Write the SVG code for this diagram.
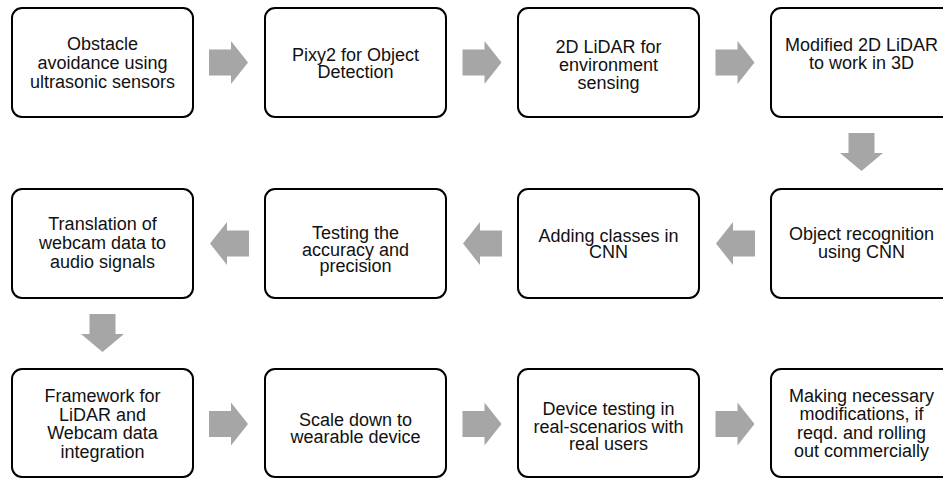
<svg xmlns="http://www.w3.org/2000/svg" xmlns:xlink="http://www.w3.org/1999/xlink" width="943" height="479" viewBox="0 0 943 479">
  <style>
    .box { fill: #ffffff; stroke: #000000; stroke-width: 2; }
    .lbl { font-family: "Liberation Sans", Arial, sans-serif; font-size: 18px; fill: #111111; text-anchor: middle; }
    .arr { fill: #a6a6a6; stroke: none; }
  </style>
  <defs>
    <path id="arrR" class="arr" d="M0,-13 H22 V-21.5 L39,0 L22,21.5 V13 H0 Z"/>
    <path id="arrL" class="arr" d="M0,0 L17,-21.5 V-13 H39 V13 H17 V21.5 Z"/>
    <path id="arrD" class="arr" d="M-13,0 H13 V20 H21.5 L0,38 L-21.5,20 H-13 Z"/>
  </defs>
  <rect width="943" height="479" fill="#ffffff"/>

  <g id="connectors">
    <use xlink:href="#arrR" transform="translate(209,62.5)"/>
    <use xlink:href="#arrR" transform="translate(462.5,62.5)"/>
    <use xlink:href="#arrR" transform="translate(715.5,62.5)"/>
    <use xlink:href="#arrD" transform="translate(861.5,133)"/>
    <use xlink:href="#arrL" transform="translate(716,243.5)"/>
    <use xlink:href="#arrL" transform="translate(463,243.5)"/>
    <use xlink:href="#arrL" transform="translate(210,243.5)"/>
    <use xlink:href="#arrD" transform="translate(102.5,314)"/>
    <use xlink:href="#arrR" transform="translate(209,424)"/>
    <use xlink:href="#arrR" transform="translate(462.5,424)"/>
    <use xlink:href="#arrR" transform="translate(715.5,424)"/>
  </g>

  <g id="n1">
    <rect class="box" x="12" y="8" width="181" height="109" rx="10"/>
    <text class="lbl"><tspan x="102.5" y="50">Obstacle</tspan><tspan x="102.5" y="69">avoidance using</tspan><tspan x="102.5" y="87.5">ultrasonic sensors</tspan></text>
  </g>
  <g id="n2">
    <rect class="box" x="265" y="8" width="181" height="109" rx="10"/>
    <text class="lbl"><tspan x="355.5" y="61">Pixy2 for Object</tspan><tspan x="355.5" y="77.5">Detection</tspan></text>
  </g>
  <g id="n3">
    <rect class="box" x="518" y="8" width="181" height="109" rx="10"/>
    <text class="lbl"><tspan x="608.5" y="53">2D LiDAR for</tspan><tspan x="608.5" y="71">environment</tspan><tspan x="608.5" y="89">sensing</tspan></text>
  </g>
  <g id="n4">
    <rect class="box" x="771" y="8" width="181" height="109" rx="10"/>
    <text class="lbl"><tspan x="861.5" y="51">Modified 2D LiDAR</tspan><tspan x="861.5" y="68.5">to work in 3D</tspan></text>
  </g>

  <g id="n5">
    <rect class="box" x="12" y="189" width="181" height="109" rx="10"/>
    <text class="lbl"><tspan x="102.5" y="230">Translation of</tspan><tspan x="102.5" y="249">webcam data to</tspan><tspan x="102.5" y="268">audio signals</tspan></text>
  </g>
  <g id="n6">
    <rect class="box" x="265" y="189" width="181" height="109" rx="10"/>
    <text class="lbl"><tspan x="355.5" y="239">Testing the</tspan><tspan x="355.5" y="255.5">accuracy and</tspan><tspan x="355.5" y="272">precision</tspan></text>
  </g>
  <g id="n7">
    <rect class="box" x="518" y="189" width="181" height="109" rx="10"/>
    <text class="lbl"><tspan x="608.5" y="242">Adding classes in</tspan><tspan x="608.5" y="257.5">CNN</tspan></text>
  </g>
  <g id="n8">
    <rect class="box" x="771" y="189" width="181" height="109" rx="10"/>
    <text class="lbl"><tspan x="861.5" y="240">Object recognition</tspan><tspan x="861.5" y="258">using CNN</tspan></text>
  </g>

  <g id="n9">
    <rect class="box" x="12" y="369" width="181" height="108" rx="10"/>
    <text class="lbl"><tspan x="102.5" y="402">Framework for</tspan><tspan x="102.5" y="420.5">LiDAR and</tspan><tspan x="102.5" y="439">Webcam data</tspan><tspan x="102.5" y="457.5">integration</tspan></text>
  </g>
  <g id="n10">
    <rect class="box" x="265" y="369" width="181" height="108" rx="10"/>
    <text class="lbl"><tspan x="355.5" y="426">Scale down to</tspan><tspan x="355.5" y="442.5">wearable device</tspan></text>
  </g>
  <g id="n11">
    <rect class="box" x="518" y="369" width="181" height="108" rx="10"/>
    <text class="lbl"><tspan x="608.5" y="415">Device testing in</tspan><tspan x="608.5" y="432.5">real-scenarios with</tspan><tspan x="608.5" y="450">real users</tspan></text>
  </g>
  <g id="n12">
    <rect class="box" x="771" y="369" width="181" height="108" rx="10"/>
    <text class="lbl"><tspan x="861.5" y="402">Making necessary</tspan><tspan x="861.5" y="420">modifications, if</tspan><tspan x="861.5" y="438.5">reqd. and rolling</tspan><tspan x="861.5" y="457">out commercially</tspan></text>
  </g>
</svg>
